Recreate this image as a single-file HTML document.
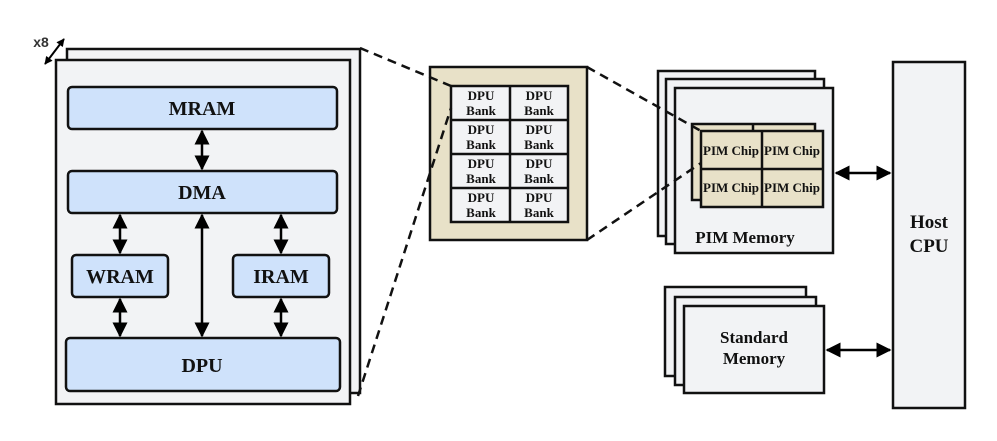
<!DOCTYPE html>
<html><head><meta charset="utf-8"><style>
html,body{margin:0;padding:0;background:#fff;width:997px;height:441px;overflow:hidden}
svg text{font-family:"Liberation Serif",serif;font-weight:bold;fill:#111;text-anchor:middle}
</style></head><body>
<svg width="997" height="441" viewBox="0 0 997 441" xmlns="http://www.w3.org/2000/svg">
<defs>
<marker id="a" viewBox="0 0 10 10" refX="9" refY="5" markerWidth="6" markerHeight="6" orient="auto-start-reverse"><path d="M0,0L10,5L0,10z" fill="#000"/></marker>
<marker id="s" viewBox="0 0 10 10" refX="9" refY="5" markerWidth="4" markerHeight="4" orient="auto-start-reverse"><path d="M0,0L10,5L0,10z" fill="#000"/></marker>
</defs>
<g stroke="#111" stroke-width="2.5">
<rect x="67" y="49" width="293" height="344" fill="#f2f3f5"/>
<rect x="56" y="60" width="294" height="344" fill="#f2f3f5"/>
<rect x="68" y="87" width="269" height="42" rx="4" fill="#cfe2fb"/>
<rect x="68" y="171" width="269" height="42" rx="4" fill="#cfe2fb"/>
<rect x="72" y="255" width="96" height="42" rx="4" fill="#cfe2fb"/>
<rect x="233" y="255" width="96" height="42" rx="4" fill="#cfe2fb"/>
<rect x="66" y="338" width="274" height="53" rx="4" fill="#cfe2fb"/>
</g>
<g stroke="#000" stroke-width="2.5" fill="none" marker-start="url(#a)" marker-end="url(#a)">
<line x1="202" y1="131" x2="202" y2="169"/>
<line x1="120" y1="215" x2="120" y2="253"/>
<line x1="120" y1="299" x2="120" y2="336"/>
<line x1="202" y1="215" x2="202" y2="336"/>
<line x1="281" y1="215" x2="281" y2="253"/>
<line x1="281" y1="299" x2="281" y2="336"/>
<line x1="45" y1="64" x2="64" y2="39" stroke-width="2" marker-start="url(#s)" marker-end="url(#s)"/>
</g>
<text x="41" y="47" style="font-family:'Liberation Sans',sans-serif;font-size:14px;fill:#333">x8</text>
<g font-size="20">
<text x="202" y="115">MRAM</text>
<text x="202" y="199">DMA</text>
<text x="120" y="283">WRAM</text>
<text x="281" y="283">IRAM</text>
<text x="202" y="372">DPU</text>
</g>
<rect x="430" y="67" width="157" height="173" fill="#e8e1c8" stroke="#111" stroke-width="2.5"/>
<rect x="451" y="86" width="117" height="136" stroke="#111" stroke-width="2.5" fill="#f2f3f5"/>
<g stroke="#111" stroke-width="2.5">
<line x1="510" y1="86" x2="510" y2="222"/>
<line x1="451" y1="120" x2="568" y2="120"/>
<line x1="451" y1="154" x2="568" y2="154"/>
<line x1="451" y1="188" x2="568" y2="188"/>
</g>
<g font-size="13">
<text x="481" y="100">DPU</text><text x="481" y="115">Bank</text>
<text x="539" y="100">DPU</text><text x="539" y="115">Bank</text>
<text x="481" y="134">DPU</text><text x="481" y="149">Bank</text>
<text x="539" y="134">DPU</text><text x="539" y="149">Bank</text>
<text x="481" y="168">DPU</text><text x="481" y="183">Bank</text>
<text x="539" y="168">DPU</text><text x="539" y="183">Bank</text>
<text x="481" y="202">DPU</text><text x="481" y="217">Bank</text>
<text x="539" y="202">DPU</text><text x="539" y="217">Bank</text>
</g>
<g stroke="#111" stroke-width="2.5" fill="#f2f3f5">
<rect x="658" y="71" width="157" height="165"/>
<rect x="666" y="79" width="158" height="165"/>
<rect x="675" y="88" width="158" height="165"/>
</g>
<g stroke="#111" stroke-width="2.5" fill="#e8e1c8">
<rect x="692" y="124" width="123" height="76"/>
<line x1="753" y1="124" x2="753" y2="200"/>
<rect x="701" y="131" width="122" height="76"/>
<line x1="762" y1="131" x2="762" y2="207"/>
<line x1="701" y1="169" x2="823" y2="169"/>
</g>
<g font-size="13">
<text x="731" y="155">PIM Chip</text><text x="792" y="155">PIM Chip</text>
<text x="731" y="192">PIM Chip</text><text x="792" y="192">PIM Chip</text>
</g>
<text x="745" y="243" font-size="17">PIM Memory</text>
<g stroke="#111" stroke-width="2.5" fill="#f2f3f5">
<rect x="665" y="287" width="141" height="89"/>
<rect x="675" y="297" width="141" height="88"/>
<rect x="684" y="306" width="140" height="87"/>
</g>
<text x="754" y="343" font-size="17">Standard</text>
<text x="754" y="364" font-size="17">Memory</text>
<rect x="893" y="62" width="72" height="346" fill="#f2f3f5" stroke="#111" stroke-width="2.5"/>
<text x="929" y="228" font-size="19">Host</text>
<text x="929" y="252" font-size="19">CPU</text>
<g stroke="#000" stroke-width="2.5" marker-start="url(#a)" marker-end="url(#a)">
<line x1="836" y1="173" x2="890" y2="173"/>
<line x1="827" y1="350" x2="890" y2="350"/>
</g>
<g stroke="#111" stroke-width="2.5" stroke-dasharray="9,6" fill="none">
<line x1="360" y1="48" x2="451" y2="86"/>
<line x1="358" y1="396" x2="451" y2="108"/>
<line x1="587" y1="67" x2="701" y2="131"/>
<line x1="587" y1="240" x2="701" y2="163"/>
</g>
</svg>
</body></html>
